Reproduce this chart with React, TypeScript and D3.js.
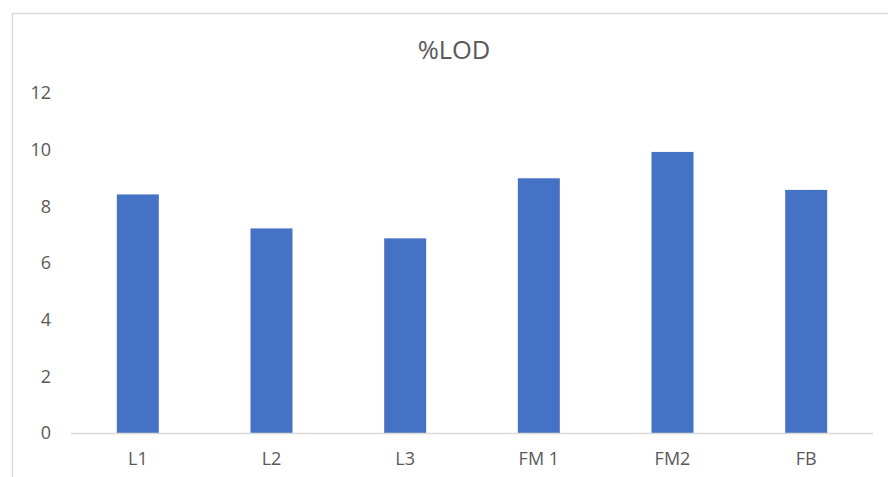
import React from "react";
import * as d3 from "d3";

const categories = ["L1", "L2", "L3", "FM 1", "FM2", "FB"];
const lodValues = [8.42, 7.22, 6.87, 8.99, 9.92, 8.58];
const yTicks = [0, 2, 4, 6, 8, 10, 12];
const chartTitle = "%LOD";

const W = 888;
const H = 477;
const FONT = "'Open Sans', 'Noto Sans', sans-serif";
const TEXT_COLOR = "#595959";
const LINE_COLOR = "#D9D9D9";
const BAR_COLOR = "#4472C4";

export default function App() {
  const x = d3
    .scaleBand<string>()
    .domain(categories)
    .range([71, 873])
    .paddingInner(0.686)
    .paddingOuter(0.343);
  const y = d3.scaleLinear().domain([0, 12]).range([433, 93]);

  return (
    <div style={{ position: "fixed", left: 0, top: 0, width: W, height: H, background: "#fff" }}>
      <svg width={W} height={H} style={{ display: "block" }} fontFamily={FONT}>
        <rect x={0} y={0} width={W} height={H} fill="#fff" />
        {/* chart area frame */}
        <rect
          x={12.5}
          y={13.5}
          width={900}
          height={470}
          fill="#fff"
          stroke={LINE_COLOR}
          strokeWidth={1.5}
        />
        <text
          x={454}
          y={48.5}
          textAnchor="middle"
          dominantBaseline="central"
          fontSize={25.5}
          fill={TEXT_COLOR}
        >
          {chartTitle}
        </text>
        {/* y-axis labels */}
        {yTicks.map((t) => (
          <text
            key={t}
            x={51}
            y={y(t)}
            dy="0.36em"
            textAnchor="end"
            fontSize={18}
            fill={TEXT_COLOR}
          >
            {t}
          </text>
        ))}
        {/* bars */}
        {categories.map((c, i) => (
          <rect
            key={c}
            x={x(c)}
            y={y(lodValues[i])}
            width={x.bandwidth()}
            height={y(0) - y(lodValues[i])}
            fill={BAR_COLOR}
          />
        ))}
        {/* category axis */}
        <line x1={71} x2={873} y1={y(0) + 0.5} y2={y(0) + 0.5} stroke={LINE_COLOR} strokeWidth={1.5} />
        {categories.map((c) => (
          <text
            key={c}
            x={(x(c) ?? 0) + x.bandwidth() / 2}
            y={458.5}
            dy="0.36em"
            textAnchor="middle"
            fontSize={18}
            fill={TEXT_COLOR}
          >
            {c}
          </text>
        ))}
      </svg>
    </div>
  );
}
